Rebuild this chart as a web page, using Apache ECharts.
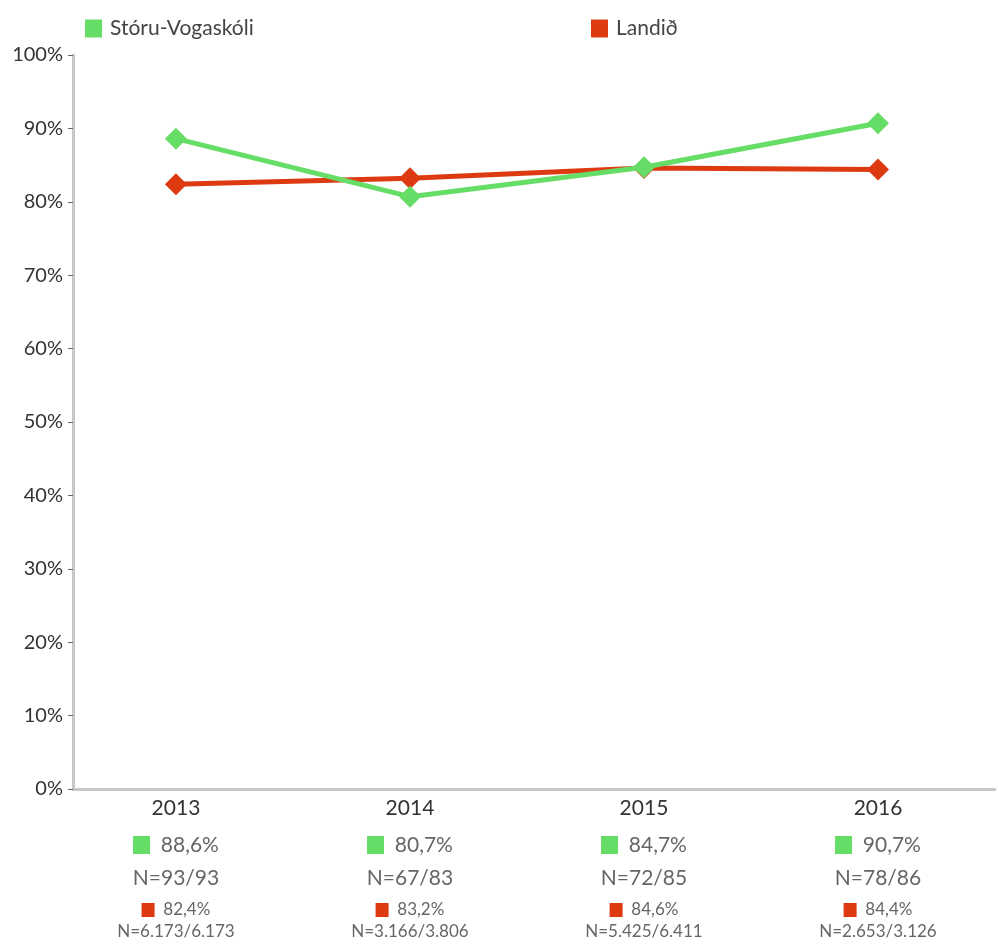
<!DOCTYPE html>
<html>
<head>
<meta charset="utf-8">
<script src="https://cdn.jsdelivr.net/npm/echarts@6/dist/echarts.min.js"></script>
<style>
  html, body { margin: 0; padding: 0; background: #fff; }
  #main { width: 998px; height: 946px; }
</style>
</head>
<body>
<div id="main"></div>
<script>
// gögn
var years = ['2013', '2014', '2015', '2016'];
var skoli = [88.6, 80.7, 84.7, 90.7];
var landid = [82.4, 83.2, 84.6, 84.4];
var skoliN = ['93/93', '67/83', '72/85', '78/86'];
var landidN = ['6.173/6.173', '3.166/3.806', '5.425/6.411', '2.653/3.126'];
var yTicks = [0, 10, 20, 30, 40, 50, 60, 70, 80, 90, 100];

var GREEN = '#66dd66', RED = '#dd3a12';
var FONT = 'Lato';

function fmt(v) { return v.toFixed(1).replace('.', ','); }

var chart = echarts.init(document.getElementById('main'));

var option = {
  textStyle: {fontFamily: FONT},
  animation: false,
  legend: [
    {data: ['Stóru-Vogaskóli'], left: 80, top: 13, icon: 'rect', itemWidth: 17, itemHeight: 18, itemGap: 0,
      textStyle: {color: '#444', fontSize: 21, fontFamily: FONT, padding: [0, 0, 0, 3]}},
    {data: ['Landið'], left: 586, top: 13, icon: 'rect', itemWidth: 17, itemHeight: 18, itemGap: 0,
      textStyle: {color: '#444', fontSize: 21, fontFamily: FONT, padding: [0, 0, 0, 3]}}
  ],
  grid: {left: 73, right: 3, top: 55, bottom: 157, containLabel: false},
  xAxis: {
    type: 'value',
    min: -0.44,
    max: 3.5,
    splitLine: {show: false},
    axisLine: {show: true, onZero: false, lineStyle: {color: '#c8c8c8', width: 3}},
    axisTick: {show: false},
    axisLabel: {
      customValues: [0, 1, 2, 3],
      margin: 1,
      formatter: function (v) {
        var i = Math.round(v);
        return '{y|' + years[i] + '}\n' +
          '{gs|}{gt|  ' + fmt(skoli[i]) + '%}\n' +
          '{n1|N=' + skoliN[i] + '}\n' +
          '{rs|}{rt|  ' + fmt(landid[i]) + '%}\n' +
          '{n2|N=' + landidN[i] + '}';
      },
      rich: {
        y: {fontSize: 21, color: '#333', lineHeight: 36, fontFamily: FONT, verticalAlign: 'middle'},
        gs: {width: 17, height: 18, backgroundColor: GREEN, lineHeight: 38, verticalAlign: 'middle'},
        gt: {fontSize: 21, color: '#666', lineHeight: 38, fontFamily: FONT, verticalAlign: 'middle'},
        n1: {fontSize: 21, color: '#666', lineHeight: 28, fontFamily: FONT, verticalAlign: 'middle'},
        rs: {width: 13, height: 14, backgroundColor: RED, lineHeight: 36, verticalAlign: 'middle'},
        rt: {fontSize: 17, color: '#666', lineHeight: 36, fontFamily: FONT, verticalAlign: 'middle'},
        n2: {fontSize: 17, color: '#666', lineHeight: 8, fontFamily: FONT, verticalAlign: 'middle'}
      }
    }
  },
  yAxis: {
    type: 'value',
    min: 0,
    max: 100,
    interval: 10,
    splitLine: {show: false},
    axisLine: {show: true, onZero: false, lineStyle: {color: '#c8c8c8', width: 3}},
    axisTick: {show: true, length: 5, lineStyle: {color: '#666', width: 1}},
    axisLabel: {
      margin: 10,
      color: '#333',
      fontSize: 20,
      fontFamily: FONT,
      formatter: function (v) { return yTicks.indexOf(v) >= 0 ? v + '%' : ''; }
    }
  },
  series: [
    {
      name: 'Stóru-Vogaskóli',
      type: 'line',
      data: skoli.map(function (v, i) { return [i, v]; }),
      symbol: 'diamond',
      symbolSize: 22,
      itemStyle: {color: GREEN},
      lineStyle: {color: GREEN, width: 5},
      z: 3
    },
    {
      name: 'Landið',
      type: 'line',
      data: landid.map(function (v, i) { return [i, v]; }),
      symbol: 'diamond',
      symbolSize: 22,
      itemStyle: {color: RED},
      lineStyle: {color: RED, width: 5},
      z: 2
    }
  ]
};

chart.setOption(option);
</script>
</body>
</html>
